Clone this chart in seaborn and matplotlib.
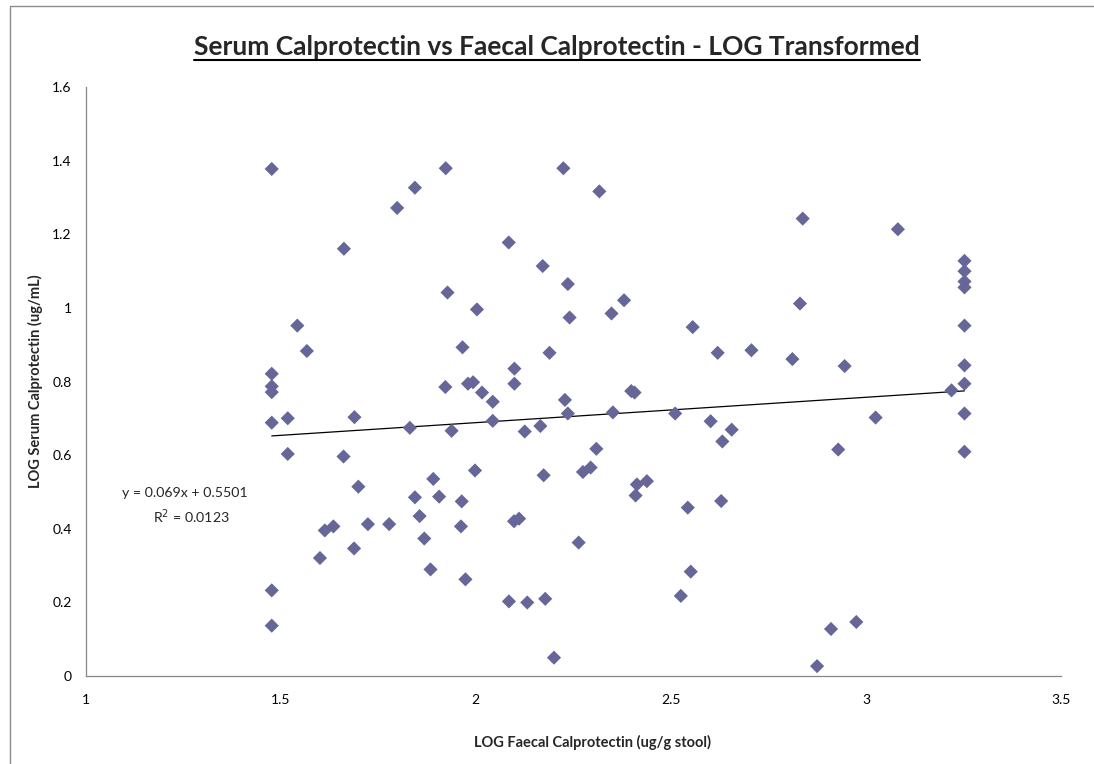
import numpy as np
import pandas as pd
import matplotlib
matplotlib.use('Agg')
import matplotlib.pyplot as plt
import seaborn as sns

# ------------------------------------------------------------------
# Data
# ------------------------------------------------------------------
log_faecal = [
    1.477, 1.477, 1.477, 1.477, 1.477, 1.477, 1.477,
    1.518, 1.518, 1.5425, 1.567, 1.6006, 1.613, 1.635, 1.661, 1.662,
    1.689, 1.688, 1.699, 1.7235, 1.778, 1.7985, 1.831, 1.844, 1.844,
    1.856, 1.868, 1.884, 1.891, 1.906, 1.922, 1.923, 1.9275, 1.938,
    1.962, 1.964, 1.966, 1.9735, 1.980, 1.993, 1.998, 2.003, 2.016,
    2.0435, 2.0435, 2.0845, 2.085, 2.098, 2.111, 2.099, 2.099, 2.1255,
    2.132, 2.1655, 2.1715, 2.174, 2.178, 2.189, 2.2005, 2.2245, 2.2285,
    2.236, 2.236, 2.2405, 2.2637, 2.2747, 2.2944, 2.309, 2.3167, 2.348,
    2.3515, 2.380, 2.3986, 2.407, 2.4096, 2.413, 2.4386, 2.511, 2.5256,
    2.5435, 2.551, 2.556, 2.602, 2.620, 2.629, 2.632, 2.656, 2.7066,
    2.8115, 2.831, 2.838, 2.8748, 2.9106, 2.929, 2.9455, 2.9754, 3.0249,
    3.082, 3.2194,
    3.2527, 3.2527, 3.2527, 3.2527, 3.2527, 3.2527, 3.2527, 3.2527, 3.2527,
]
log_serum = [
    1.378, 0.821, 0.787, 0.771, 0.688, 0.232, 0.136,
    0.700, 0.603, 0.952, 0.883, 0.320, 0.395, 0.406, 0.596, 1.161,
    0.703, 0.346, 0.514, 0.412, 0.412, 1.272, 0.674, 0.485, 1.327,
    0.434, 0.373, 0.289, 0.535, 0.487, 0.785, 1.380, 1.042, 0.666,
    0.406, 0.474, 0.893, 0.262, 0.794, 0.798, 0.558, 0.996, 0.770,
    0.745, 0.693, 1.178, 0.202, 0.420, 0.427, 0.835, 0.794, 0.664,
    0.199, 0.679, 1.114, 0.545, 0.209, 0.878, 0.049, 1.380, 0.750,
    0.713, 1.065, 0.974, 0.362, 0.554, 0.566, 0.617, 1.317, 0.985,
    0.716, 1.021, 0.774, 0.770, 0.490, 0.520, 0.529, 0.713, 0.217,
    0.457, 0.283, 0.948, 0.692, 0.878, 0.475, 0.637, 0.669, 0.885,
    0.861, 1.012, 1.243, 0.026, 0.127, 0.615, 0.842, 0.146, 0.702,
    1.214, 0.776,
    1.128, 1.100, 1.072, 1.056, 0.952, 0.844, 0.794, 0.713, 0.609,
]

# linear trendline as printed on the chart
slope = 0.069
intercept = 0.5501
r_squared = 0.0123

x_ticks = [1, 1.5, 2, 2.5, 3, 3.5]
x_tick_labels = ['1', '1.5', '2', '2.5', '3', '3.5']
y_ticks = [0, 0.2, 0.4, 0.6, 0.8, 1.0, 1.2, 1.4, 1.6]
y_tick_labels = ['0', '0.2', '0.4', '0.6', '0.8', '1', '1.2', '1.4', '1.6']

df = pd.DataFrame({'faecal': log_faecal, 'serum': log_serum})

# ------------------------------------------------------------------
# Plot
# ------------------------------------------------------------------
sns.set_style('white')
plt.rcParams['font.family'] = ['Lato', 'DejaVu Sans']

axis_grey = '#868686'
fig = plt.figure(figsize=(10.94, 7.64), dpi=100)
ax = fig.add_axes([0.0783, 0.1156, 0.8915, 0.7701])

sns.scatterplot(data=df, x='faecal', y='serum', marker='D', s=52,
                color='#666699', edgecolor='none', ax=ax, zorder=3)

trend_x = np.array([df['faecal'].min(), df['faecal'].max()])
trend = pd.DataFrame({'x': trend_x, 'y': slope * trend_x + intercept})
sns.lineplot(data=trend, x='x', y='y', color='black', linewidth=0.9, ax=ax, zorder=2)

ax.set_xlim(1, 3.5)
ax.set_ylim(0, 1.6)
ax.set_xticks(x_ticks)
ax.set_xticklabels(x_tick_labels)
ax.set_yticks(y_ticks)
ax.set_yticklabels(y_tick_labels)
ax.tick_params(axis='both', direction='out', length=4, width=0.8, color=axis_grey,
               labelsize=10, labelcolor='black', pad=6)
ax.tick_params(axis='x', pad=9)
for side in ['top', 'right']:
    ax.spines[side].set_visible(False)
for side in ['left', 'bottom']:
    ax.spines[side].set_color(axis_grey)
    ax.spines[side].set_linewidth(0.9)
ax.grid(False)

ax.set_xlabel('')
ax.set_ylabel('')
fig.text(593 / 1094, 1 - 742 / 764, 'LOG Faecal Calprotectin (ug/g stool)',
         ha='center', va='center', fontsize=10.5, fontweight='bold')
fig.text(35 / 1094, 1 - 381 / 764, 'LOG Serum Calprotectin (ug/mL)',
         ha='center', va='center', rotation=90, fontsize=10.5, fontweight='bold')

title = fig.text(557 / 1094, 1 - 47 / 764,
                 'Serum Calprotectin vs Faecal Calprotectin - LOG Transformed',
                 ha='center', va='center', fontsize=19, fontweight='bold')
# underline under the title
fig.canvas.draw()
bb = title.get_window_extent()
fig.add_artist(plt.Line2D([bb.x0 / 1094, bb.x1 / 1094],
                          [(bb.y0 - 1) / 764, (bb.y0 - 1) / 764],
                          transform=fig.transFigure, color='black', linewidth=1.5))

ax.text(1.253, 0.496, f'y = {slope}x + {intercept}', ha='center', va='center',
        fontsize=10.2)
ax.text(1.27, 0.431, f'R$^2$ = {r_squared}', ha='center', va='center', fontsize=10.2)

# chart frame (only top and left edges show in the crop)
fig.add_artist(plt.Rectangle((9.5 / 1094, -0.1), 1.2, 1.1 - 6.5 / 764,
                             transform=fig.transFigure, fill=False,
                             edgecolor='#8c8c8c', linewidth=1.0))

fig.savefig('out.png', dpi=100)
